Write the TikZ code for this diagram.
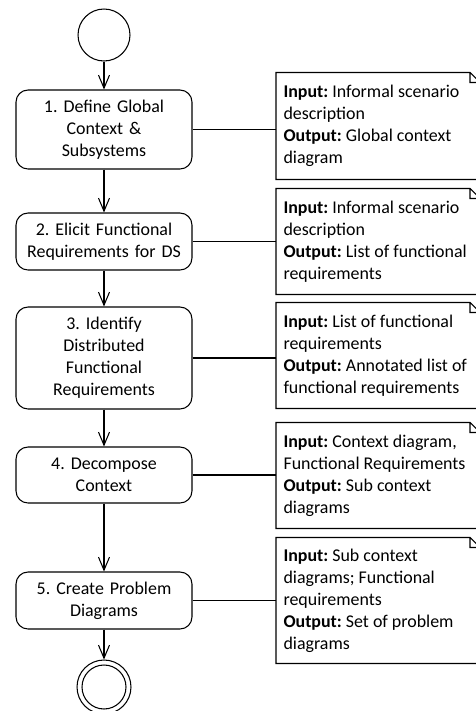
\documentclass[tikz,border=0pt]{standalone}
\usepackage{fontspec}
\setmainfont{Carlito}
\usetikzlibrary{arrows.meta}

\begin{document}
\begin{tikzpicture}[x=0.02cm,y=-0.02cm,line width=0.6pt,
  every node/.style={font=\fontsize{10.2}{12.5}\selectfont\frenchspacing},
  activity/.style={draw,rounded corners=0.24cm,text width=3.3cm,align=center,
    minimum width=3.52cm,inner sep=0pt},
  notebox/.style={anchor=west,text width=4.2cm,align=flush left,inner xsep=0.14cm,inner ysep=0pt}]
\useasboundingbox (0,0) rectangle (476,711);

% Initial and final states
\node[draw,circle,minimum size=1.04cm,inner sep=0pt] (start) at (104,35) {};
\node[draw,circle,minimum size=1.08cm,inner sep=0pt] (stop) at (104,687) {};
\node[draw,circle,minimum size=0.88cm,inner sep=0pt] (stopin) at (stop) {};

% Activities
\node[activity,minimum height=1.58cm] (a1) at (104,129.5) {1. Define Global\\Context \&\\Subsystems};
\node[activity,minimum height=1.14cm] (a2) at (104,241.5) {2. Elicit Functional\\Requirements for DS};
\node[activity,minimum height=2.04cm] (a3) at (104,358) {3. Identify\\Distributed\\Functional\\Requirements};
\node[activity,minimum height=1.12cm] (a4) at (104,475) {4. Decompose\\Context};
\node[activity,minimum height=1.14cm] (a5) at (104,600.5) {5. Create Problem\\Diagrams};

% Notes
\node[notebox,minimum height=2.12cm] (n1) at (276,126) {\textbf{Input:} Informal scenario\\description\\\textbf{Output:} Global context\\diagram};
\node[notebox,minimum height=2.10cm] (n2) at (276,241.5) {\textbf{Input:} Informal scenario\\description\\\textbf{Output:} List of functional\\requirements};
\node[notebox,minimum height=2.10cm] (n3) at (276,355.5) {\textbf{Input:} List of functional\\requirements\\\textbf{Output:} Annotated list of\\functional requirements};
\node[notebox,minimum height=2.10cm] (n4) at (276,475.5) {\textbf{Input:} Context diagram,\\Functional Requirements\\\textbf{Output:} Sub context\\diagrams};
\node[notebox,minimum height=2.50cm] (n5) at (276,600.5) {\textbf{Input:} Sub context\\diagrams; Functional\\requirements\\\textbf{Output:} Set of problem\\diagrams};

% Note outlines with folded corner
\foreach \n in {n1,n2,n3,n4,n5}
  \draw (\n.north west) -- ++(194,0) -- ++(10,10) |- (\n.south west) -- cycle
    (\n.north west) ++(194,0) |- ++(10,10);

% Control flow
\foreach \a/\b in {start/a1,a1/a2,a2/a3,a3/a4,a4/a5,a5/stop}
  \draw[-{Straight Barb[length=0.26cm,width=0.22cm]}] (\a) -- (\b);

% Attach notes
\foreach \i in {1,...,5}
  \draw (a\i.east) -- (a\i.east -| n\i.west);
\end{tikzpicture}
\end{document}
